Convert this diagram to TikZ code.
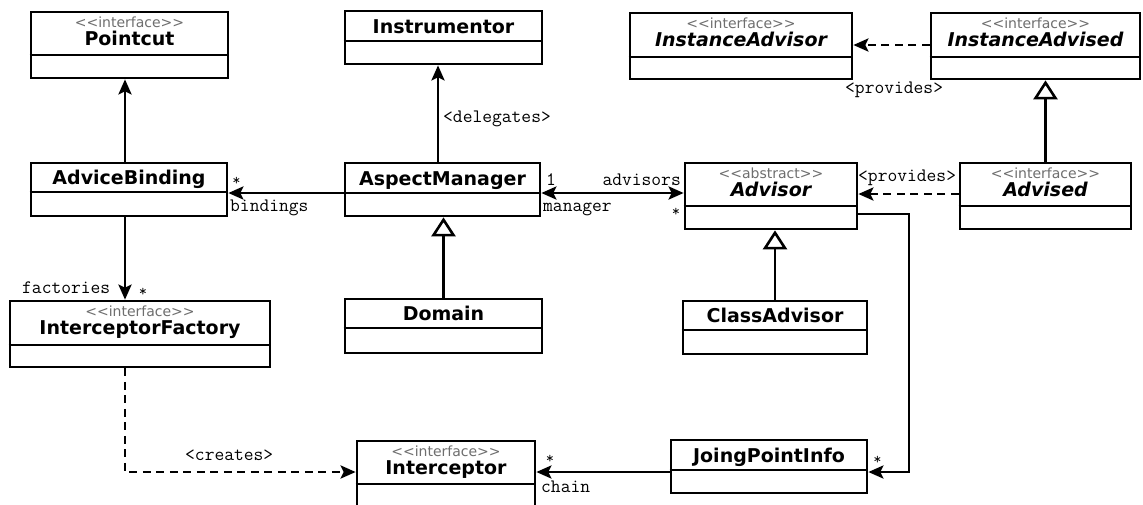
\documentclass[tikz,border=0pt]{standalone}
\usepackage{fontspec}
\usetikzlibrary{arrows.meta,fit}
\newfontfamily\umlfont{DejaVu Sans}[ItalicFont={DejaVu Sans Oblique},BoldItalicFont={DejaVu Sans Bold Oblique}]
\definecolor{stereogray}{HTML}{6E6E6E}

\tikzset{
  umlbox/.style={draw=black, line width=2.7pt, inner sep=0pt, fill=white},
  rule/.style={draw=black, line width=2.7pt},
  classname/.style={anchor=base, inner sep=0pt, font=\umlfont\bfseries\fontsize{19pt}{19pt}\selectfont},
  stereo/.style={anchor=base, inner sep=0pt, text=stereogray, font=\umlfont\fontsize{14pt}{14pt}\selectfont},
  rolelabel/.style={inner sep=0pt, font=\ttfamily\fontsize{19pt}{19pt}\selectfont},
  multstar/.style={inner sep=0pt, font=\ttfamily\fontsize{16pt}{16pt}\selectfont},
  conn/.style={line width=2.8pt, line join=miter},
  tip/.style={},
  assoc/.style={conn, -{Stealth[length=15pt,width=13pt,inset=3pt]}},
  biassoc/.style={conn, {Stealth[length=15pt,width=13pt,inset=3pt]}-{Stealth[length=15pt,width=13pt,inset=3pt]}},
  dep/.style={conn, dash pattern=on 8pt off 5.5pt, -{Stealth[length=15pt,width=13pt,inset=3pt]}},
  gen/.style={conn, -{Triangle[length=19pt,width=24pt,fill=white,line width=2.6pt]}},
}

% class box: name, left, top, right, divider, bottom, title
\newcommand\plainclass[7]{%
  \node[umlbox, fit={(#2,#3) (#4,#6)}] (#1) {};
  \draw[rule] (#1.west |- 0,#5) -- (#1.east |- 0,#5);
  \node[classname] (#1-name) at ({(#2+#4)/2},{(#3+#5)/2+7}) {#7};
}
% class box with stereotype: name, left, top, right, divider, bottom, stereotype, title
\newcommand\stereoclass[8]{%
  \node[umlbox, fit={(#2,#3) (#4,#6)}] (#1) {};
  \draw[rule] (#1.west |- 0,#5) -- (#1.east |- 0,#5);
  \node[stereo] (#1-st) at ({(#2+#4)/2},{#3+15.5}) {#7};
  \node[classname] (#1-name) at ({(#2+#4)/2},{#3+33.5}) {#8};
}

\begin{document}
\begin{tikzpicture}[x=1pt,y=-1pt]
\useasboundingbox (0,0) rectangle (1143,504);
\clip (0,0) rectangle (1143,504);

% classes
\stereoclass{pc}{31}{12}{228}{55}{78}{<<interface>>}{Pointcut}
\plainclass{ins}{345}{11}{542}{41}{64}{Instrumentor}
\stereoclass{iar}{630}{13}{852}{57}{79}{<<interface>>}{\itshape InstanceAdvisor}
\stereoclass{iad}{931}{13}{1140}{57}{79}{<<interface>>}{\itshape InstanceAdvised}
\plainclass{ab}{31}{163}{227}{192}{216}{AdviceBinding}
\plainclass{am}{345}{163}{540}{193}{216}{AspectManager}
\stereoclass{adv}{685}{163}{857}{206}{229}{<<abstract>>}{\itshape Advisor}
\stereoclass{ads}{960}{163}{1131}{206}{229}{<<interface>>}{\itshape Advised}
\stereoclass{if}{10}{301}{270}{345}{367}{<<interface>>}{InterceptorFactory}
\plainclass{dom}{345}{299}{542}{328}{353}{Domain}
\plainclass{ca}{683}{301}{867}{330}{354}{ClassAdvisor}
\stereoclass{int}{357}{441}{535}{484}{520}{<<interface>>}{Interceptor}
\plainclass{jpi}{671}{440}{867}{470}{493}{JoingPointInfo}

% routing lanes
\coordinate (leftlane) at (125,0);
\coordinate (delegline) at (438,0);
\coordinate (assocrow) at (0,193);
\coordinate (provrowA) at (0,45);
\coordinate (provrowB) at (0,194);
\coordinate (railrow) at (0,214);
\coordinate (rail) at (909,0);
\coordinate (chainrow) at (0,472);

% associations
\draw[assoc] (leftlane |- ab.north) -- (leftlane |- pc.south);
\draw[assoc] (leftlane |- ab.south) -- (leftlane |- if.north);
\draw[assoc] (delegline |- am.north) -- (delegline |- ins.south);
\draw[assoc] (am.west |- assocrow) -- (ab.east |- assocrow);
\draw[biassoc] (am.east |- assocrow) -- (adv.west |- assocrow);
\draw[assoc] (adv.east |- railrow) -- (rail |- railrow) -- (rail |- chainrow) -- (jpi.east |- chainrow);
\draw[assoc] (jpi.west |- chainrow) -- (int.east |- chainrow);

% dependencies
\draw[dep] (leftlane |- if.south) -- (leftlane |- chainrow) -- (int.west |- chainrow);
\draw[dep] (iad.west |- provrowA) -- (iar.east |- provrowA);
\draw[dep] (ads.west |- provrowB) -- (adv.east |- provrowB);

% generalizations
\draw[gen] (dom.north) -- (dom.north |- am.south);
\draw[gen] (ca.north) -- (ca.north |- adv.south);
\draw[gen] (ads.north) -- (ads.north |- iad.south);

% role names, multiplicities and stereotypes of relations
\node[rolelabel, anchor=base west] (l-deleg) at (443,122.5) {<delegates>};
\node[multstar, anchor=base] (l-bstar) at (236.5,185) {*};
\node[rolelabel, anchor=base west] (l-bind) at (230,211) {bindings};
\node[rolelabel, anchor=base] (l-one) at (551,185) {1};
\node[rolelabel, anchor=base east] (l-advs) at (681,185) {advisors};
\node[rolelabel, anchor=base west] (l-mgr) at (543,211) {manager};
\node[multstar, anchor=base] (l-astar) at (676,216) {*};
\node[rolelabel, anchor=base west] (l-fact) at (22,293) {factories};
\node[multstar, anchor=base] (l-fstar) at (143,296) {*};
\node[rolelabel, anchor=base west] (l-creates) at (185,460) {<creates>};
\node[multstar, anchor=base] (l-istar) at (550,463.5) {*};
\node[rolelabel, anchor=base west] (l-chain) at (541,492) {chain};
\node[multstar, anchor=base] (l-jstar) at (877.5,464) {*};
\node[rolelabel, anchor=base west] (l-provA) at (845,93) {<provides>};
\node[rolelabel, anchor=base west] (l-provB) at (858,181) {<provides>};
\end{tikzpicture}
\end{document}
